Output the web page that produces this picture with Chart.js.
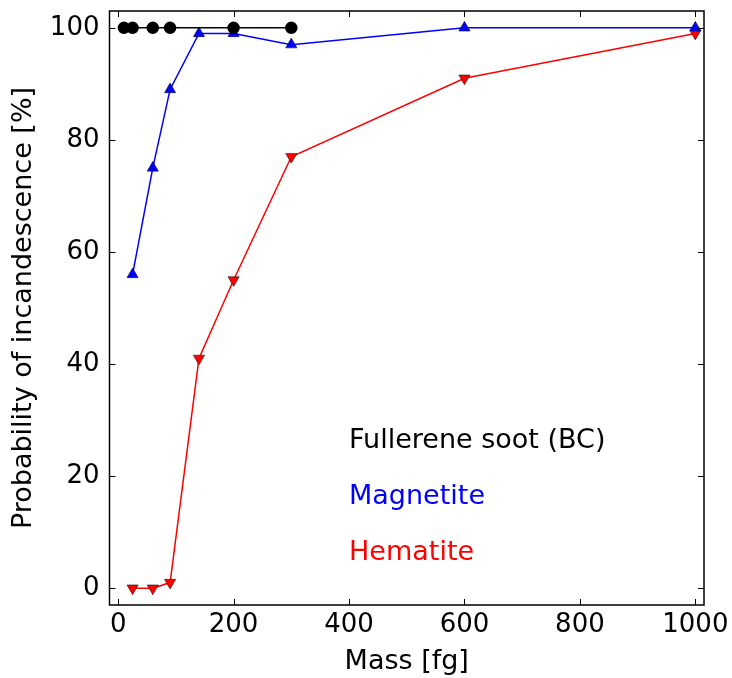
<!DOCTYPE html>
<html>
<head>
<meta charset="utf-8">
<script src="https://cdn.jsdelivr.net/npm/chart.js@4/dist/chart.umd.min.js"></script>
<style>
  html, body { margin: 0; padding: 0; background: #fff; }
  #wrap { width: 732px; height: 678px; }
</style>
</head>
<body>
<div id="wrap"><canvas id="chart"></canvas></div>
<script>
/* ================= DATA ================= */
const sootMass = [10, 25, 60, 90, 200, 300];
const sootProb = [100, 100, 100, 100, 100, 100];

const magMass = [25, 60, 90, 140, 200, 300, 600, 1000];
const magProb = [56, 75, 89, 99, 99, 97, 100, 100];

const hemMass = [25, 60, 90, 140, 200, 300, 600, 1000];
const hemProb = [0, 0, 1, 41, 55, 77, 91, 99];

const xTicks = [0, 200, 400, 600, 800, 1000];
const yTicks = [0, 20, 40, 60, 80, 100];

const labels = [
    { text: "Fullerene soot (BC)", x: 400, y: 25, color: "#000000" },
    { text: "Magnetite", x: 400, y: 15, color: "#0000ff" },
    { text: "Hematite", x: 400, y: 5, color: "#ff0000" }
];

const FONT = "DejaVu Sans";
const FSIZE = 26;     // tick labels
const LSIZE = 27;     // axis titles + annotations

function toPoints(xs, ys) {
    return xs.map((x, i) => ({ x: x, y: ys[i] }));
}

/* ================= PLUGIN: frame, inward ticks, text ================= */
const framePlugin = {
    id: "frame",
    afterDatasetsDraw(chart) {
        const ctx = chart.ctx;
        const a = chart.chartArea;
        const xs = chart.scales.x;
        const ys = chart.scales.y;
        const len = 6;

        ctx.save();
        ctx.strokeStyle = "#000";
        ctx.lineWidth = 1;
        xTicks.forEach(v => {
            const px = Math.round(xs.getPixelForValue(v)) + 0.5;
            ctx.beginPath();
            ctx.moveTo(px, a.bottom); ctx.lineTo(px, a.bottom - len);
            ctx.moveTo(px, a.top); ctx.lineTo(px, a.top + len);
            ctx.stroke();
        });
        yTicks.forEach(v => {
            const py = Math.round(ys.getPixelForValue(v)) + 0.5;
            ctx.beginPath();
            ctx.moveTo(a.left, py); ctx.lineTo(a.left + len, py);
            ctx.moveTo(a.right, py); ctx.lineTo(a.right - len, py);
            ctx.stroke();
        });

        ctx.lineWidth = 1.5;
        ctx.strokeRect(a.left, a.top, a.right - a.left, a.bottom - a.top);

        ctx.font = LSIZE + "px '" + FONT + "'";
        ctx.textAlign = "left";
        ctx.textBaseline = "alphabetic";
        labels.forEach(l => {
            ctx.fillStyle = l.color;
            ctx.fillText(l.text, xs.getPixelForValue(l.x), ys.getPixelForValue(l.y));
        });
        ctx.restore();
    }
};

/* ================= CHART ================= */
new Chart(document.getElementById("chart"), {
    type: "scatter",
    data: {
        datasets: [
            {
                label: "Fullerene soot (BC)",
                data: toPoints(sootMass, sootProb),
                showLine: true,
                borderColor: "#000000",
                backgroundColor: "#000000",
                borderWidth: 1.5,
                pointStyle: "circle",
                pointRadius: 5.5,
                order: 0
            },
            {
                label: "Magnetite",
                data: toPoints(magMass, magProb),
                showLine: true,
                borderColor: "#0000ff",
                backgroundColor: "#0000ff",
                pointBorderColor: "#000000",
                pointBorderWidth: 0.5,
                borderWidth: 1.5,
                pointStyle: "triangle",
                pointRadius: 6.5,
                order: 1
            },
            {
                label: "Hematite",
                data: toPoints(hemMass, hemProb),
                showLine: true,
                borderColor: "#ff0000",
                backgroundColor: "#ff0000",
                pointBorderColor: "#000000",
                pointBorderWidth: 0.5,
                borderWidth: 1.5,
                pointStyle: "triangle",
                pointRotation: 180,
                pointRadius: 6.5,
                order: 2
            }
        ]
    },
    options: {
        responsive: true,
        maintainAspectRatio: false,
        animation: false,
        layout: { padding: { top: 11, right: 28, left: 0, bottom: 0 } },
        plugins: {
            legend: { display: false },
            tooltip: { enabled: false }
        },
        scales: {
            x: {
                type: "linear",
                min: -15,
                max: 1015,
                afterBuildTicks: s => { s.ticks = xTicks.map(v => ({ value: v })); },
                afterFit: s => { s.height = 73; s.paddingLeft = 0; s.paddingRight = 0; },
                grid: { display: false, drawTicks: false },
                border: { display: false },
                ticks: {
                    color: "#000",
                    padding: 5,
                    maxRotation: 0,
                    callback: v => String(v),
                    font: { family: FONT, size: FSIZE }
                },
                title: {
                    display: true,
                    text: "Mass [fg]",
                    color: "#000",
                    padding: { top: 0, bottom: 0 },
                    font: { family: FONT, size: LSIZE }
                }
            },
            y: {
                type: "linear",
                min: -3,
                max: 103,
                afterBuildTicks: s => { s.ticks = yTicks.map(v => ({ value: v })); },
                afterFit: s => { s.width = 109.5; s.paddingTop = 0; s.paddingBottom = 0; },
                grid: { display: false, drawTicks: false },
                border: { display: false },
                ticks: {
                    color: "#000",
                    padding: 10,
                    callback: v => String(v),
                    font: { family: FONT, size: FSIZE }
                },
                title: {
                    display: true,
                    text: "Probability of incandescence [%]",
                    color: "#000",
                    padding: { top: 8, bottom: 0 },
                    font: { family: FONT, size: LSIZE }
                }
            }
        }
    },
    plugins: [framePlugin]
});
</script>
</body>
</html>
